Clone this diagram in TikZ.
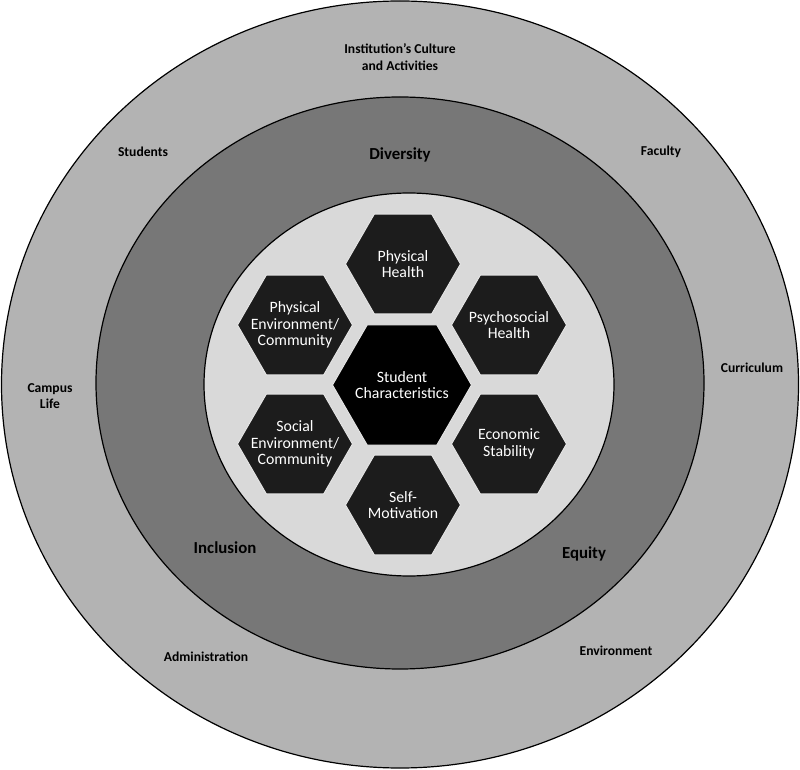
\documentclass[tikz,border=0pt]{standalone}
\usepackage{fontspec}
\setmainfont{Carlito}
\usetikzlibrary{shapes.geometric,positioning}
\definecolor{outerring}{HTML}{B3B3B3}
\definecolor{middlering}{HTML}{777777}
\definecolor{innerring}{HTML}{D9D9D9}
\definecolor{hexfill}{HTML}{1C1C1C}
\tikzset{
ring/.style={draw=black,line width=1.2pt},
hexa/.style={regular polygon,regular polygon sides=6,minimum size=115pt,inner sep=0pt,fill=hexfill,draw=white!80!gray,line width=1pt},
hextext/.style={text=white,align=center,inner sep=0pt,font=\fontsize{15.8}{16.5}\selectfont},
corehexa/.style={hexa,minimum size=139pt,fill=black},
outerlabel/.style={align=center,font=\bfseries\fontsize{13.6}{16.5}\selectfont},
valuelabel/.style={align=center,font=\bfseries\fontsize{16.8}{19}\selectfont}
}
\begin{document}
\begin{tikzpicture}[x=1pt,y=1pt]
\useasboundingbox (0,0) rectangle (800,769);
% rings
\draw[ring,fill=outerring] (400,384.5) ellipse [x radius=398.5pt,y radius=383.5pt];
\draw[ring,fill=middlering] (400,386) ellipse [x radius=304pt,y radius=286pt];
\draw[ring,fill=innerring] (409,384.5) ellipse [x radius=205pt,y radius=191.5pt];
% hexagons
\node[corehexa,label={[hextext]center:Student\\Characteristics}](student) at (402,384) {};
\node[hexa,label={[hextext]center:Physical\\Health}](physhealth) at (403,505) {};
\node[hexa,label={[hextext]center:Psychosocial\\Health}](psycho) at (509,444) {};
\node[hexa,label={[hextext]center:Economic\\Stability}](economic) at (509,325) {};
\node[hexa,label={[hextext]center:Self-\\Motivation}](selfmot) at (403,264) {};
\node[hexa,label={[hextext]center:Social\\Environment/\\Community}](socialenv) at (295,325) {};
\node[hexa,label={[hextext]center:Physical\\Environment/\\Community}](physenv) at (295,444) {};
% middle ring
\node[valuelabel](diversity) at (400,614.5) {Diversity};
\node[valuelabel](inclusion) at (225,221) {Inclusion};
\node[valuelabel](equity) at (584,215) {Equity};
% outer ring
\node[outerlabel](culture) at (400,712) {Institution’s Culture\\and Activities};
\node[outerlabel](students) at (143,617) {Students};
\node[outerlabel](faculty) at (661,617) {Faculty};
\node[outerlabel](curriculum) at (752,401) {Curriculum};
\node[outerlabel](campus) at (50,373) {Campus\\Life};
\node[outerlabel](admin) at (206,112) {Administration};
\node[outerlabel](environment) at (616,118) {Environment};
\end{tikzpicture}
\end{document}
